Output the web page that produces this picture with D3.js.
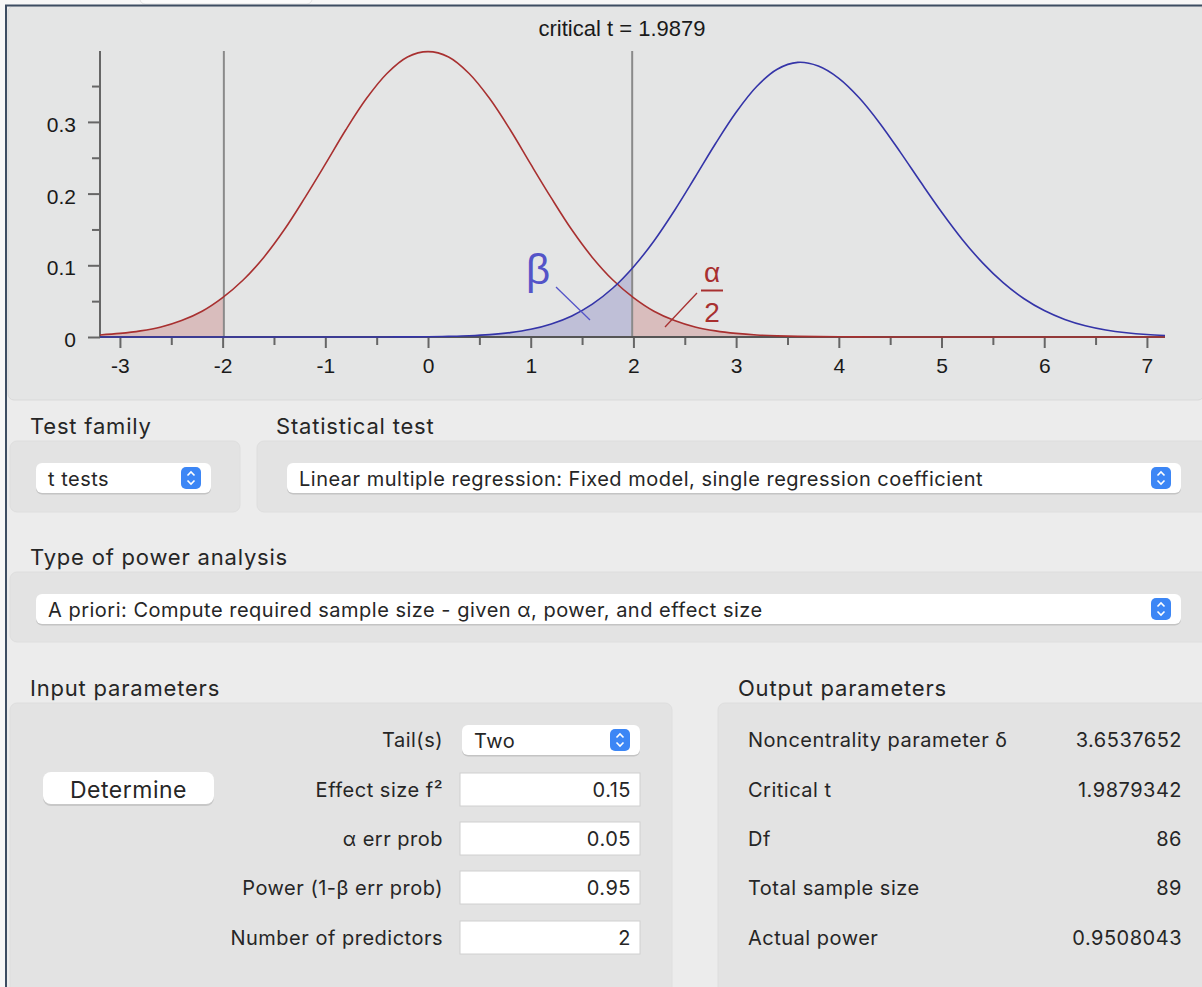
<!DOCTYPE html>
<html>
<head>
<meta charset="utf-8">
<script src="https://cdn.jsdelivr.net/npm/d3@7"></script>
<style>
	html, body { margin: 0; padding: 0; background: #ececec; }
	svg { display: block; }
	.ui text { font-family: Inter, 'Noto Sans', sans-serif; letter-spacing: 0.5px; }
	.plot text { font-family: 'Liberation Sans', Arial, sans-serif; fill: #1a1a1a; }
</style>
</head>
<body>
<div id="chart"></div>
<script>
// t grid (step 0.2) and the two densities
const tGrid = [-3.2, -3.0, -2.8, -2.6, -2.4, -2.2, -2.0, -1.8, -1.6, -1.4, -1.2, -1.0, -0.8, -0.6, -0.4, -0.2,
	0.0, 0.2, 0.4, 0.6, 0.8, 1.0, 1.2, 1.4, 1.6, 1.8, 2.0, 2.2, 2.4, 2.6, 2.8, 3.0, 3.2, 3.4, 3.6, 3.8,
	4.0, 4.2, 4.4, 4.6, 4.8, 5.0, 5.2, 5.4, 5.6, 5.8, 6.0, 6.2, 6.4, 6.6, 6.8, 7.0, 7.2];

const nullDensity = [0.0028, 0.0050, 0.0085, 0.0140, 0.0230, 0.0360, 0.0550, 0.0795, 0.1110, 0.1495, 0.1940,
	0.2410, 0.2890, 0.3325, 0.3675, 0.3905, 0.3980, 0.3905, 0.3675, 0.3325, 0.2890, 0.2410, 0.1940, 0.1495,
	0.1110, 0.0795, 0.0550, 0.0360, 0.0230, 0.0140, 0.0085, 0.0050, 0.0028, 0.0016, 0.0009, 0.0005, 0.0003,
	0.0002, 0.0001, 0, 0, 0, 0, 0, 0, 0, 0, 0, 0, 0, 0, 0, 0];

const altDensity = [0, 0, 0, 0, 0, 0, 0, 0, 0, 0, 0, 0, 0, 0, 0.0001, 0.0002, 0.0004, 0.0009, 0.0017, 0.0033,
	0.0061, 0.0107, 0.0182, 0.0294, 0.0458, 0.0683, 0.0977, 0.1340, 0.1765, 0.2228, 0.2699, 0.3135, 0.3494,
	0.3735, 0.3830, 0.3779, 0.3608, 0.3333, 0.2979, 0.2575, 0.2154, 0.1744, 0.1365, 0.1034, 0.0758, 0.0537,
	0.0369, 0.0245, 0.0157, 0.0098, 0.0059, 0.0034, 0.0019];

const criticalT = 1.9879;
const xTicks = [-3, -2, -1, 0, 1, 2, 3, 4, 5, 6, 7];
const xMinorTicks = [-2.5, -1.5, -0.5, 0.5, 1.5, 2.5, 3.5, 4.5, 5.5, 6.5];
const yTicks = [0, 0.1, 0.2, 0.3];
const yMinorTicks = [0.05, 0.15, 0.25, 0.35];

const testFamily = 't tests';
const statisticalTest = 'Linear multiple regression: Fixed model, single regression coefficient';
const analysisType = 'A priori: Compute required sample size - given α, power, and effect size';
const inputLabels = ['Tail(s)', 'Effect size f²', 'α err prob', 'Power (1-β err prob)', 'Number of predictors'];
const inputValues = ['Two', '0.15', '0.05', '0.95', '2'];
const outputLabels = ['Noncentrality parameter δ', 'Critical t', 'Df', 'Total sample size', 'Actual power'];
const outputValues = ['3.6537652', '1.9879342', '86', '89', '0.9508043'];

const W = 1202, H = 987;
const red = '#a83030', blue = '#3434a8';

const svg = d3.select('#chart').append('svg')
	.attr('width', W).attr('height', H)
	.attr('viewBox', `0 0 ${W} ${H}`);

// window frame
svg.append('rect').attr('x', 0).attr('y', 0).attr('width', W).attr('height', H).attr('fill', '#ececec');
svg.append('rect').attr('x', 0).attr('y', 0).attr('width', W).attr('height', 5).attr('fill', '#f7f7f7');
svg.append('rect').attr('x', 140).attr('y', -6).attr('width', 172).attr('height', 10).attr('rx', 5)
	.attr('fill', '#fbfbfb').attr('stroke', '#e2e2e2');
svg.append('rect').attr('x', 0).attr('y', 5).attr('width', 6).attr('height', H).attr('fill', '#f7f7f7');

// plot panel
svg.append('rect').attr('x', 8).attr('y', 6).attr('width', W - 6).attr('height', 394).attr('rx', 6)
	.attr('fill', '#e4e5e5').attr('stroke', '#d9d9d9');
svg.append('line').attr('x1', 5).attr('x2', W).attr('y1', 5.5).attr('y2', 5.5)
	.attr('stroke', '#3d4d62').attr('stroke-width', 2);
svg.append('line').attr('x1', 6).attr('x2', 6).attr('y1', 5).attr('y2', H)
	.attr('stroke', '#3d4d62').attr('stroke-width', 2);

const plot = svg.append('g').attr('class', 'plot');

const x = d3.scaleLinear().domain([-3.194, 7.176]).range([100, 1165]);
const y = d3.scaleLinear().domain([0, 0.4]).range([337, 50.2]);

const pts = (vals) => tGrid.map((t, i) => ({ t, d: vals[i] }));
const nullPts = pts(nullDensity);
const altPts = pts(altDensity);

const area = d3.area().curve(d3.curveCatmullRom)
	.x((p) => x(p.t)).y0(y(0)).y1((p) => y(p.d));
const line = d3.line().curve(d3.curveCatmullRom)
	.x((p) => x(p.t)).y((p) => y(p.d));

const defs = svg.append('defs');
const clip = (id, a, b) => defs.append('clipPath').attr('id', id).append('rect')
	.attr('x', x(a)).attr('y', 0).attr('width', x(b) - x(a)).attr('height', 400);
clip('clipLeft', -3.194, -criticalT);
clip('clipRight', criticalT, 7.176);
clip('clipBeta', -3.194, criticalT);
clip('clipAll', -3.194, 7.176);

plot.append('path').datum(altPts).attr('d', area).attr('clip-path', 'url(#clipBeta)')
	.attr('fill', 'rgba(60,60,170,0.22)');
plot.append('path').datum(nullPts).attr('d', area).attr('clip-path', 'url(#clipLeft)')
	.attr('fill', 'rgba(176,50,50,0.22)');
plot.append('path').datum(nullPts).attr('d', area).attr('clip-path', 'url(#clipRight)')
	.attr('fill', 'rgba(176,50,50,0.22)');

// critical value lines
plot.selectAll('.crit').data([-criticalT, criticalT]).join('line')
	.attr('x1', (d) => x(d)).attr('x2', (d) => x(d))
	.attr('y1', y(0.399)).attr('y2', y(0))
	.attr('stroke', '#8a8a8a').attr('stroke-width', 2);

// axes
const styleAxis = (g) => {
	g.select('.domain').remove();
	g.selectAll('.tick line').attr('stroke', '#666').attr('stroke-width', 2);
	g.selectAll('.tick text').attr('font-size', 21);
};

plot.append('g').attr('transform', `translate(0,${y(0)})`)
	.call(d3.axisBottom(x).tickValues(xTicks).tickSize(11).tickPadding(10).tickFormat((d) => String(d)))
	.call(styleAxis);
plot.append('g').attr('transform', `translate(0,${y(0)})`)
	.call(d3.axisBottom(x).tickValues(xMinorTicks).tickSize(8).tickFormat(''))
	.call(styleAxis);
plot.append('g').attr('transform', `translate(${x(-3.194)},0)`)
	.call(d3.axisLeft(y).tickValues(yTicks).tickSize(12).tickPadding(12)
		.tickFormat((d) => (d === 0 ? '0' : d3.format('.1f')(d))))
	.call(styleAxis)
	.call((g) => g.selectAll('.tick text').attr('dy', '0.45em'));
plot.append('g').attr('transform', `translate(${x(-3.194)},0)`)
	.call(d3.axisLeft(y).tickValues(yMinorTicks).tickSize(8).tickFormat(''))
	.call(styleAxis);

plot.append('line').attr('x1', x(-3.194)).attr('x2', x(-3.194))
	.attr('y1', y(0.399)).attr('y2', y(0) + 1)
	.attr('stroke', '#666').attr('stroke-width', 2);
plot.append('line').attr('x1', x(-3.194)).attr('x2', x(7.176))
	.attr('y1', y(0)).attr('y2', y(0))
	.attr('stroke', '#555').attr('stroke-width', 2);

// curves
plot.append('path').datum(nullPts).attr('d', line).attr('clip-path', 'url(#clipAll)')
	.attr('fill', 'none').attr('stroke', red).attr('stroke-width', 1.6);
plot.append('path').datum(altPts).attr('d', line).attr('clip-path', 'url(#clipAll)')
	.attr('fill', 'none').attr('stroke', blue).attr('stroke-width', 1.6);

plot.append('text').attr('x', 622).attr('y', 36).attr('text-anchor', 'middle')
	.attr('font-size', 22).text(`critical t = ${criticalT}`);

// beta / alpha labels
plot.append('text').attr('x', 538).attr('y', 284).attr('text-anchor', 'middle')
	.attr('font-size', 42).style('fill', '#5454c8').text('β');
plot.append('line').attr('x1', 556).attr('y1', 287).attr('x2', 590).attr('y2', 320)
	.attr('stroke', '#5454c8').attr('stroke-width', 1.3);
plot.append('text').attr('x', 712).attr('y', 282).attr('text-anchor', 'middle')
	.attr('font-size', 28).style('fill', red).text('α');
plot.append('line').attr('x1', 701).attr('x2', 723).attr('y1', 290.5).attr('y2', 290.5)
	.attr('stroke', red).attr('stroke-width', 2);
plot.append('text').attr('x', 712).attr('y', 322).attr('text-anchor', 'middle')
	.attr('font-size', 28).style('fill', red).text('2');
plot.append('line').attr('x1', 697).attr('y1', 293).attr('x2', 665).attr('y2', 327)
	.attr('stroke', red).attr('stroke-width', 1.3);

// ---- form part ----
const ui = svg.append('g').attr('class', 'ui');

const groupBox = (x0, y0, w, h) => ui.append('rect').attr('x', x0).attr('y', y0)
	.attr('width', w).attr('height', h).attr('rx', 7)
	.attr('fill', '#e3e3e3').attr('stroke', '#dedede');

const label = (x0, y0, txt, size = 20, anchor = 'start') => ui.append('text')
	.attr('x', x0).attr('y', y0).attr('font-size', size).attr('text-anchor', anchor)
	.attr('dominant-baseline', 'central').style('fill', '#262626').text(txt);

const heading = (x0, y0, txt) => label(x0, y0, txt, 22).style('letter-spacing', '0.8px');

const stepper = (cx, cy) => {
	ui.append('rect').attr('x', cx - 10).attr('y', cy - 11).attr('width', 20).attr('height', 22)
		.attr('rx', 5).attr('fill', '#3c86f5');
	ui.append('path').attr('d', `M${cx - 3.5},${cy - 2.5} L${cx},${cy - 6} L${cx + 3.5},${cy - 2.5}`
		+ ` M${cx - 3.5},${cy + 2.5} L${cx},${cy + 6} L${cx + 3.5},${cy + 2.5}`)
		.attr('fill', 'none').attr('stroke', '#fff').attr('stroke-width', 1.6);
};

const popup = (x0, y0, w, txt) => {
	ui.append('rect').attr('x', x0).attr('y', y0 + 1.5).attr('width', w).attr('height', 30)
		.attr('rx', 6).attr('fill', '#c4c4c4');
	ui.append('rect').attr('x', x0).attr('y', y0).attr('width', w).attr('height', 30)
		.attr('rx', 6).attr('fill', '#fff');
	label(x0 + 12, y0 + 16, txt);
	stepper(x0 + w - 20, y0 + 15);
};

const field = (x0, y0, w, txt) => {
	ui.append('rect').attr('x', x0).attr('y', y0).attr('width', w).attr('height', 33)
		.attr('fill', '#fff').attr('stroke', '#d0d0d0');
	label(x0 + w - 9, y0 + 17, txt, 20, 'end');
};

heading(30, 426, 'Test family');
heading(276, 426, 'Statistical test');
groupBox(10, 441, 230, 71);
groupBox(257, 441, W - 257 + 10, 71);
popup(36, 463, 175, testFamily);
popup(287, 463, 894, statisticalTest);

heading(30, 557, 'Type of power analysis');
groupBox(10, 572, W, 70);
popup(36, 594, 1145, analysisType);

heading(30, 688, 'Input parameters');
heading(738, 688, 'Output parameters');
groupBox(10, 703, 662, 300);
groupBox(718, 703, 500, 300);

// Determine button
ui.append('rect').attr('x', 43).attr('y', 774).attr('width', 171).attr('height', 32).attr('rx', 8)
	.attr('fill', '#c8c8c8');
ui.append('rect').attr('x', 43).attr('y', 772).attr('width', 171).attr('height', 32).attr('rx', 8)
	.attr('fill', '#fff');
label(128.5, 790, 'Determine', 23, 'middle');

const rowY = [740, 790, 839, 888, 938];
inputLabels.forEach((l, i) => label(443, rowY[i], l, 20, 'end'));
popup(462, rowY[0] - 15, 178, inputValues[0]);
inputValues.slice(1).forEach((v, i) => field(460, rowY[i + 1] - 17, 180, v));

outputLabels.forEach((l, i) => label(748, rowY[i], l));
outputValues.forEach((v, i) => label(1182, rowY[i], v, 20, 'end'));
</script>
</body>
</html>
